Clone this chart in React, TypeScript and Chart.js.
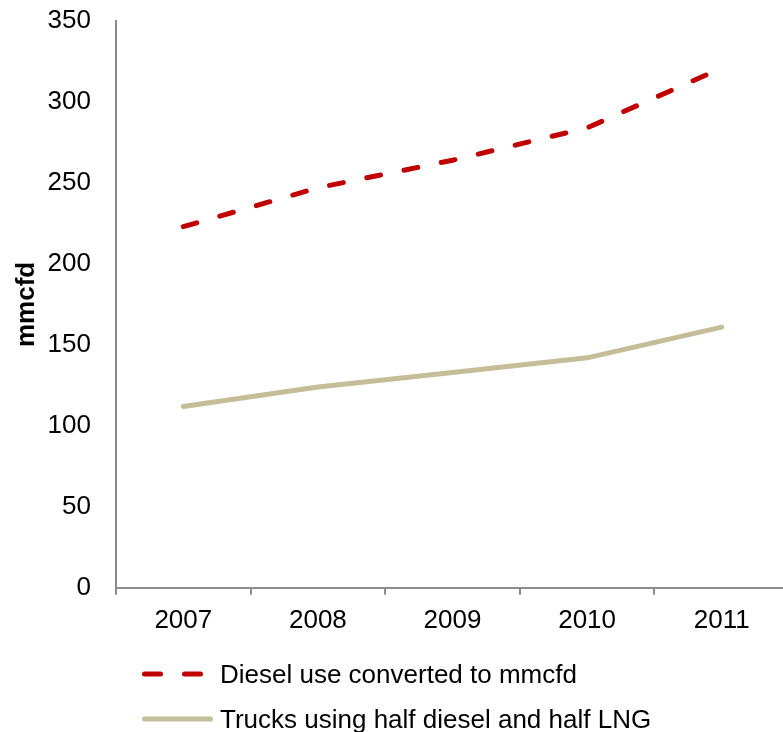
import React, { useEffect, useRef } from "react";
import { Chart, registerables } from "chart.js";

Chart.register(...registerables);

const years = ["2007", "2008", "2009", "2010", "2011"];
const dieselMmcfd = [223, 247, 264, 284, 321];
const trucksHalfLng = [112, 124, 133, 142, 161];
const seriesNames = ["Diesel use converted to mmcfd", "Trucks using half diesel and half LNG"];
const yTitle = "mmcfd";

const RED = "#C00000";
const TAN = "#C4BD97";
const AXIS = "#8C8C8C";
const FONT = "'Liberation Sans', Arial, Helvetica, sans-serif";

export default function App() {
  const ref = useRef<HTMLCanvasElement | null>(null);

  useEffect(() => {
    if (!ref.current) return;
    const chart = new Chart(ref.current, {
      type: "line",
      data: {
        labels: years,
        datasets: [
          {
            label: seriesNames[0],
            data: dieselMmcfd,
            borderColor: RED,
            backgroundColor: RED,
            borderWidth: 5,
            borderDash: [14, 24],
            borderCapStyle: "round",
            borderJoinStyle: "round",
            pointRadius: 0,
            tension: 0,
          },
          {
            label: seriesNames[1],
            data: trucksHalfLng,
            borderColor: TAN,
            backgroundColor: TAN,
            borderWidth: 5,
            borderCapStyle: "round",
            borderJoinStyle: "round",
            pointRadius: 0,
            tension: 0,
          },
        ],
      },
      options: {
        responsive: false,
        animation: false,
        layout: { padding: { top: 21, left: 0, right: 0, bottom: 0 } },
        plugins: { legend: { display: false }, tooltip: { enabled: false } },
        scales: {
          x: {
            type: "category",
            offset: true,
            grid: {
              offset: true,
              drawOnChartArea: false,
              drawTicks: true,
              tickLength: 7,
              color: AXIS,
              lineWidth: 2,
            },
            border: { display: true, color: AXIS, width: 2 },
            ticks: {
              color: "#000",
              padding: 10,
              maxRotation: 0,
              font: { family: FONT, size: 26 },
            },
          },
          y: {
            min: 0,
            max: 350,
            ticks: {
              stepSize: 50,
              color: "#000",
              padding: 25,
              font: { family: FONT, size: 26 },
            },
            grid: { drawOnChartArea: false, drawTicks: false },
            border: { display: true, color: AXIS, width: 2 },
            title: {
              display: true,
              text: yTitle,
              color: "#000",
              padding: { top: 11, bottom: 0 },
              font: { family: FONT, size: 26, weight: "bold" },
            },
            afterFit: (scale: any) => {
              scale.width = 116;
              scale.paddingTop = 0;
              scale.paddingBottom = 0;
            },
          },
        },
      },
    });
    return () => chart.destroy();
  }, []);

  const textStyle: React.CSSProperties = {
    position: "absolute",
    left: 220,
    fontFamily: FONT,
    fontSize: 26,
    lineHeight: "30px",
    color: "#000",
    whiteSpace: "nowrap",
  };

  return (
    <div
      style={{
        position: "fixed",
        left: 0,
        top: 0,
        width: 783,
        height: 732,
        overflow: "hidden",
        background: "#fff",
      }}
    >
      <canvas
        ref={ref}
        width={789}
        height={646}
        style={{ position: "absolute", left: 0, top: 0, width: 789, height: 646 }}
      />
      <svg
        width={783}
        height={732}
        style={{ position: "absolute", left: 0, top: 0 }}
      >
        <line
          x1={144.5}
          y1={674}
          x2={200.5}
          y2={674}
          stroke={RED}
          strokeWidth={5}
          strokeLinecap="round"
          strokeDasharray="16 24"
        />
        <line
          x1={144.5}
          y1={719}
          x2={210.5}
          y2={719}
          stroke={TAN}
          strokeWidth={5}
          strokeLinecap="round"
        />
      </svg>
      <div style={{ ...textStyle, top: 659 }}>{seriesNames[0]}</div>
      <div style={{ ...textStyle, top: 704 }}>{seriesNames[1]}</div>
    </div>
  );
}
